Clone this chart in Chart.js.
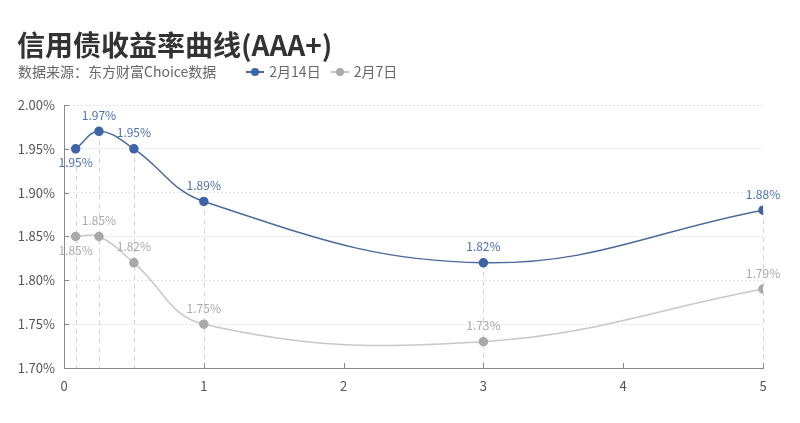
<!DOCTYPE html>
<html>
<head>
<meta charset="utf-8">
<script src="https://cdn.jsdelivr.net/npm/chart.js@4"></script>
<style>
  body { margin: 0; background: #fff; font-family: "Noto Sans CJK SC", "Noto Sans", sans-serif; }
  #wrap { position: relative; width: 800px; height: 423px; }
  #title { position: absolute; left: 17px; top: 26px; font-size: 28px; font-weight: bold; color: #333; line-height: 36px; }
  #sub { position: absolute; left: 18px; top: 61px; font-size: 14px; color: #666; line-height: 20px; white-space: nowrap; }
  .lg { display: inline-block; position: relative; width: 18px; height: 10px; margin: 0 5px 0 0; vertical-align: 0; }
  .lg i { position: absolute; left: 0; top: 4px; width: 18px; height: 2px; }
  .lg b { position: absolute; left: 5px; top: 1px; width: 8px; height: 8px; border-radius: 50%; }
  canvas { position: absolute; left: 0; top: 0; }
</style>
</head>
<body>
<div id="wrap">
  <canvas id="lineCanvas" width="800" height="423"></canvas>
  <div id="title">信用债收益率曲线(AAA+)</div>
  <div id="sub">数据来源：东方财富Choice数据<span style="display:inline-block;width:30px"></span><span class="lg"><i style="background:#4b6a9b"></i><b style="background:#3e64a8"></b></span>2月14日<span style="display:inline-block;width:10px"></span><span class="lg"><i style="background:#c4c4c4"></i><b style="background:#a9a9a9"></b></span>2月7日</div>
</div>
<script>
// maturities in years (1M, 3M, 6M, 1Y, 3Y, 5Y)
const years = [1 / 12, 0.25, 0.5, 1, 3, 5];
const feb14 = [1.95, 1.97, 1.95, 1.89, 1.82, 1.88];
const feb7 = [1.85, 1.85, 1.82, 1.75, 1.73, 1.79];
const seriesNames = ['2月14日', '2月7日'];
const yTicks = [1.70, 1.75, 1.80, 1.85, 1.90, 1.95, 2.00];
const xTicks = [0, 1, 2, 3, 4, 5];

const toPoints = (vals) => vals.map((v, i) => ({ x: years[i], y: v }));

// dashed drop lines, inward tick marks and value labels
const extras = {
    id: 'extras',
    beforeDatasetsDraw(chart) {
        const ctx = chart.ctx;
        const xs = chart.scales.x, ys = chart.scales.y;
        const area = chart.chartArea;
        ctx.save();
        ctx.strokeStyle = '#d4d4d4';
        ctx.lineWidth = 1;
        ctx.setLineDash([5, 4]);
        years.forEach((t, i) => {
            const px = Math.round(xs.getPixelForValue(t)) + 0.5;
            const top = ys.getPixelForValue(Math.max(feb14[i], feb7[i]));
            ctx.beginPath();
            ctx.moveTo(px, top);
            ctx.lineTo(px, area.bottom);
            ctx.stroke();
        });
        ctx.setLineDash([]);
        ctx.strokeStyle = '#888';
        xTicks.forEach(t => {
            const px = Math.round(xs.getPixelForValue(t)) + 0.5;
            ctx.beginPath();
            ctx.moveTo(px, area.bottom);
            ctx.lineTo(px, area.bottom - 5);
            ctx.stroke();
        });
        yTicks.forEach(t => {
            const py = Math.round(ys.getPixelForValue(t)) + 0.5;
            ctx.beginPath();
            ctx.moveTo(area.left, py);
            ctx.lineTo(area.left + 5, py);
            ctx.stroke();
        });
        ctx.restore();
    },
    afterDatasetsDraw(chart) {
        const ctx = chart.ctx;
        ctx.save();
        ctx.font = '12px "Noto Sans CJK SC", "Noto Sans", sans-serif';
        ctx.textAlign = 'center';
        ctx.textBaseline = 'middle';
        chart.data.datasets.forEach((ds, di) => {
            const meta = chart.getDatasetMeta(di);
            ctx.fillStyle = ds.labelColor;
            meta.data.forEach((pt, i) => {
                const below = i === 0;
                const y = below ? pt.y + 14 : pt.y - 16;
                ctx.fillText(ds.data[i].y.toFixed(2) + '%', pt.x, y);
            });
        });
        ctx.restore();
    }
};

new Chart(document.getElementById('lineCanvas'), {
    type: 'line',
    data: {
        datasets: [{
            label: seriesNames[0],
            data: toPoints(feb14),
            borderColor: '#4b6a9b',
            backgroundColor: '#3e64a8',
            pointBackgroundColor: '#3e64a8',
            pointBorderColor: '#3e64a8',
            labelColor: '#4a72b0',
            borderWidth: 1.5,
            pointRadius: 4,
            tension: 0.4
        }, {
            label: seriesNames[1],
            data: toPoints(feb7),
            borderColor: '#c8c8c8',
            backgroundColor: '#a9a9a9',
            pointBackgroundColor: '#a9a9a9',
            pointBorderColor: '#a9a9a9',
            labelColor: '#aaaaaa',
            borderWidth: 1.5,
            pointRadius: 4,
            tension: 0.4
        }]
    },
    options: {
        responsive: false,
        animation: false,
        layout: { padding: { left: 0, right: 37, top: 105, bottom: 25 } },
        plugins: { legend: { display: false }, tooltip: { enabled: false } },
        scales: {
            x: {
                type: 'linear',
                min: 0,
                max: 5,
                afterBuildTicks: (s) => { s.ticks = xTicks.map(v => ({ value: v })); },
                afterFit: (s) => { s.height = 30; },
                grid: { display: false, drawTicks: false },
                border: { display: true, color: '#888', width: 1 },
                ticks: { color: '#555', padding: 10, font: { size: 13, family: '"Noto Sans CJK SC", "Noto Sans", sans-serif' } }
            },
            y: {
                min: 1.70,
                max: 2.00,
                afterBuildTicks: (s) => { s.ticks = yTicks.map(v => ({ value: v })); },
                afterFit: (s) => { s.width = 64; },
                grid: { color: '#e4e4e4', drawTicks: false },
                border: { display: true, color: '#888', width: 1, dash: [2, 2] },
                ticks: {
                    color: '#555',
                    padding: 9,
                    font: { size: 13, family: '"Noto Sans CJK SC", "Noto Sans", sans-serif' },
                    callback: (v) => v.toFixed(2) + '%'
                }
            }
        }
    },
    plugins: [extras]
});
</script>
</body>
</html>
